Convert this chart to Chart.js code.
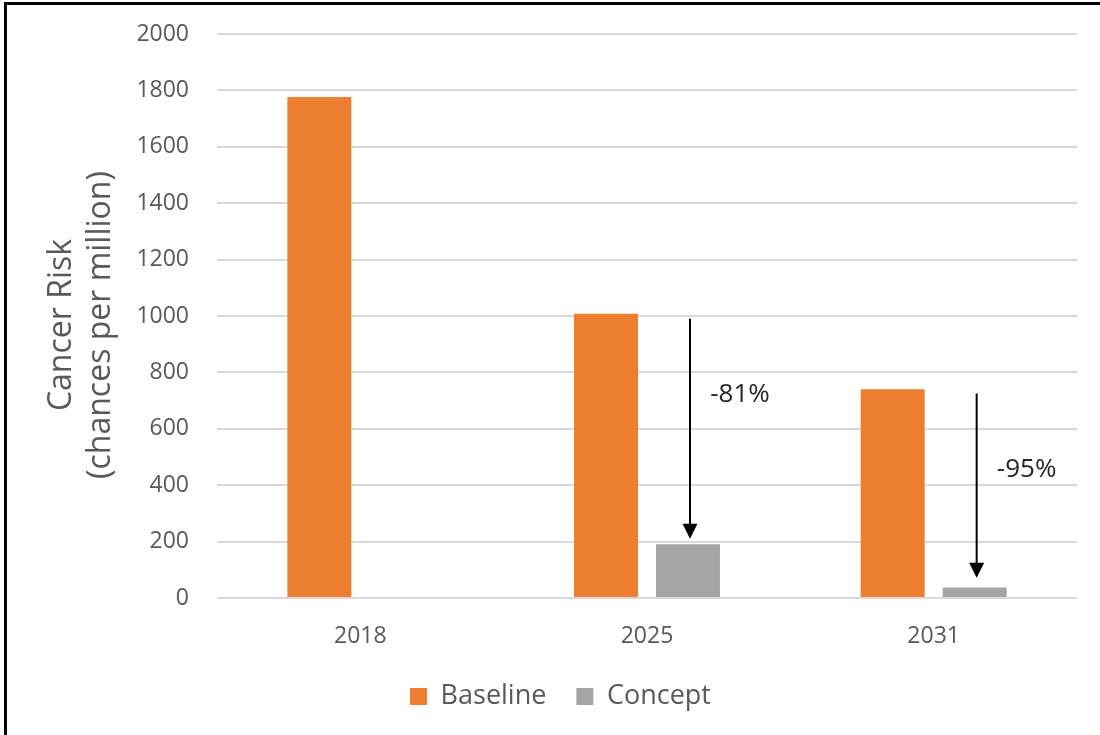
<!DOCTYPE html>
<html>
<head>
<meta charset="utf-8">
<script src="https://cdn.jsdelivr.net/npm/chart.js@4.4.1/dist/chart.umd.min.js"></script>
<style>
  html, body { margin: 0; padding: 0; background: #fff; }
  #wrap { position: relative; width: 1100px; height: 735px; overflow: hidden; }
  #frame { position: absolute; left: 4px; top: 2px; width: 1200px; height: 800px;
           border-left: 3px solid #000; border-top: 3px solid #000; pointer-events: none; }
  canvas { position: absolute; left: 0; top: 0; }
</style>
</head>
<body>
<div id="wrap">
  <canvas id="c" width="1100" height="735"></canvas>
  <div id="frame"></div>
</div>
<script>
// ---- data ----
const categories = ['2018', '2025', '2031'];
const baselineValues = [1777, 1008, 740];
const conceptValues = [null, 191, 37];
const seriesNames = ['Baseline', 'Concept'];
const yTicks = [0, 200, 400, 600, 800, 1000, 1200, 1400, 1600, 1800, 2000];
const yTitle = ['Cancer Risk', '(chances per million)'];
// reduction arrows (data units)
const arrowFrom = [null, 990, 725];
const arrowTo = [null, 210, 72];
const arrowText = ['', '-81%', '-95%'];
const arrowTextAt = [null, 722, 457];

Chart.defaults.font.family = "'Open Sans', sans-serif";

const arrowPlugin = {
  id: 'arrows',
  afterDatasetsDraw(chart) {
    const ctx = chart.ctx;
    const meta = chart.getDatasetMeta(1);
    const y = chart.scales.y;
    ctx.save();
    for (let i = 0; i < categories.length; i++) {
      if (arrowFrom[i] == null) continue;
      const x = meta.data[i].x + 2;
      const y0 = y.getPixelForValue(arrowFrom[i]);
      const y1 = y.getPixelForValue(arrowTo[i]);
      const head = 15;
      ctx.strokeStyle = '#000';
      ctx.fillStyle = '#000';
      ctx.lineWidth = 2;
      ctx.beginPath();
      ctx.moveTo(x, y0);
      ctx.lineTo(x, y1 - head + 1);
      ctx.stroke();
      ctx.beginPath();
      ctx.moveTo(x - 7.5, y1 - head);
      ctx.lineTo(x + 7.5, y1 - head);
      ctx.lineTo(x, y1);
      ctx.closePath();
      ctx.fill();
      ctx.font = "26px 'Open Sans', sans-serif";
      ctx.fillStyle = '#262626';
      ctx.textAlign = 'center';
      ctx.textBaseline = 'middle';
      ctx.fillText(arrowText[i], x + 50, y.getPixelForValue(arrowTextAt[i]));
    }
    ctx.restore();
  }
};

const chart = new Chart(document.getElementById('c'), {
  type: 'bar',
  data: {
    labels: categories,
    datasets: [
      { label: seriesNames[0], data: baselineValues, backgroundColor: '#ED7D31',
        categoryPercentage: 0.572, barPercentage: 0.78 },
      { label: seriesNames[1], data: conceptValues, backgroundColor: '#A5A5A5',
        categoryPercentage: 0.572, barPercentage: 0.78 }
    ]
  },
  options: {
    responsive: false,
    animation: false,
    layout: { padding: { left: 0, top: 34, right: 23, bottom: 15 } },
    plugins: {
      legend: {
        position: 'bottom',
        labels: {
          font: { size: 27 },
          color: '#595959',
          boxWidth: 17,
          boxHeight: 17,
          padding: 30
        }
      },
      tooltip: { enabled: false }
    },
    scales: {
      x: {
        afterFit(scale) { scale.height = 55; },
        grid: { display: false, drawTicks: false },
        border: { display: false },
        ticks: { font: { size: 23 }, color: '#595959', padding: 25 }
      },
      y: {
        min: 0,
        max: 2000,
        afterBuildTicks(scale) { scale.ticks = yTicks.map(v => ({ value: v })); },
        afterFit(scale) { scale.width = 217; },
        grid: { color: '#d9d9d9', lineWidth: 2, drawTicks: true, tickLength: 22,
                tickColor: 'rgba(0,0,0,0)' },
        border: { display: false },
        ticks: { font: { size: 23 }, color: '#595959', padding: 6,
                 callback: (v) => String(v) },
        title: {
          display: true,
          text: yTitle,
          font: { size: 32, lineHeight: 1.2 },
          color: '#595959',
          padding: { top: 43, bottom: 0 }
        }
      }
    }
  },
  plugins: [arrowPlugin]
});

// nudge legend and axis title to the reference placement
const legendDraw = chart.legend.draw.bind(chart.legend);
chart.legend.draw = function (area) {
  const c = this.ctx; c.save(); c.translate(22, 0); legendDraw(area); c.restore();
};
const ys = chart.scales.y;
const titleDraw = ys.drawTitle.bind(ys);
ys.drawTitle = function () {
  const c = this.ctx; c.save(); c.translate(0, 9); titleDraw(); c.restore();
};
chart.draw();
</script>
</body>
</html>
